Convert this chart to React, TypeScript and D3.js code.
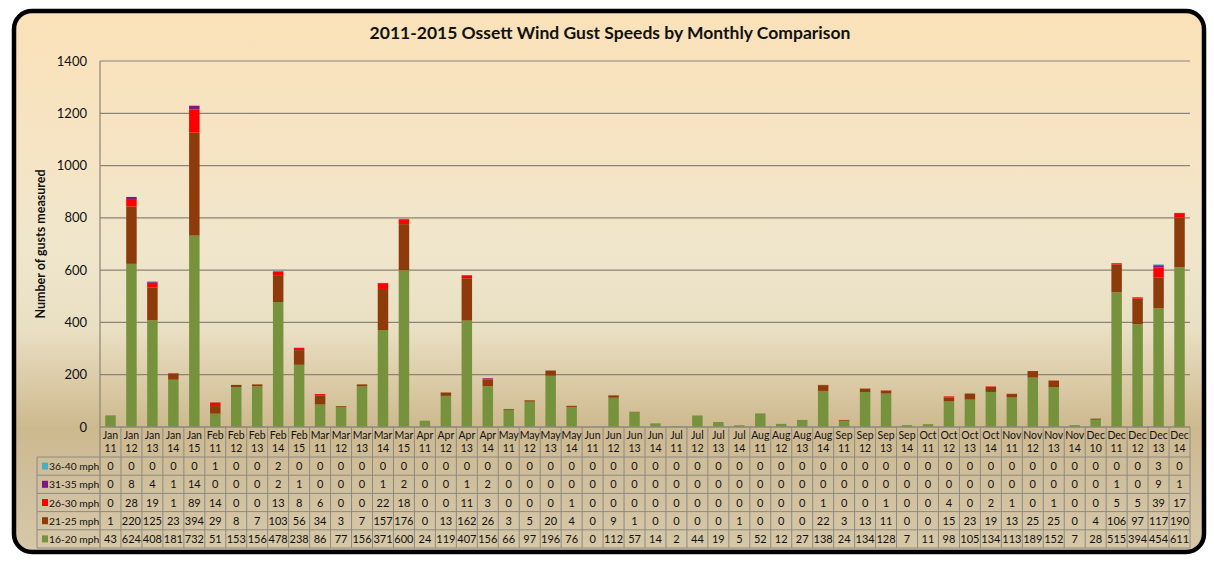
import React from "react";
import * as d3 from "d3";

const categories = [
  "Jan 11","Jan 12","Jan 13","Jan 14","Jan 15",
  "Feb 11","Feb 12","Feb 13","Feb 14","Feb 15",
  "Mar 11","Mar 12","Mar 13","Mar 14","Mar 15",
  "Apr 11","Apr 12","Apr 13","Apr 14",
  "May 11","May 12","May 13","May 14",
  "Jun 11","Jun 12","Jun 13","Jun 14",
  "Jul 11","Jul 12","Jul 13","Jul 14",
  "Aug 11","Aug 12","Aug 13","Aug 14",
  "Sep 11","Sep 12","Sep 13","Sep 14",
  "Oct 11","Oct 12","Oct 13","Oct 14",
  "Nov 11","Nov 12","Nov 13","Nov 14",
  "Dec 10","Dec 11","Dec 12","Dec 13","Dec 14",
];

const mph16_20 = [43,624,408,181,732,51,153,156,478,238,86,77,156,371,600,24,119,407,156,66,97,196,76,0,112,57,14,2,44,19,5,52,12,27,138,24,134,128,7,11,98,105,134,113,189,152,7,28,515,394,454,611];
const mph21_25 = [1,220,125,23,394,29,8,7,103,56,34,3,7,157,176,0,13,162,26,3,5,20,4,0,9,1,0,0,0,0,1,0,0,0,22,3,13,11,0,0,15,23,19,13,25,25,0,4,106,97,117,190];
const mph26_30 = [0,28,19,1,89,14,0,0,13,8,6,0,0,22,18,0,0,11,3,0,0,0,1,0,0,0,0,0,0,0,0,0,0,0,1,0,0,1,0,0,4,0,2,1,0,1,0,0,5,5,39,17];
const mph31_35 = [0,8,4,1,14,0,0,0,2,1,0,0,0,1,2,0,0,1,2,0,0,0,0,0,0,0,0,0,0,0,0,0,0,0,0,0,0,0,0,0,0,0,0,0,0,0,0,0,1,0,9,1];
const mph36_40 = [0,0,0,0,0,1,0,0,2,0,0,0,0,0,0,0,0,0,0,0,0,0,0,0,0,0,0,0,0,0,0,0,0,0,0,0,0,0,0,0,0,0,0,0,0,0,0,0,0,0,3,0];

const seriesNames = ["16-20 mph","21-25 mph","26-30 mph","31-35 mph","36-40 mph"];
const seriesValues = [mph16_20, mph21_25, mph26_30, mph31_35, mph36_40];
const seriesColors = ["#76923C","#8E3B0B","#FF0000","#7B1A85","#4BACC6"];
const yTicks = [0,200,400,600,800,1000,1200,1400];

const W = 1214, H = 563;
const left = 100, right = 1190, top = 61, bottom = 427;
const headerH = 30, rowH = 18.2, legendLeft = 37;
const font = "Lato, 'Open Sans', sans-serif";

export default function App() {
  const keys = seriesNames;
  const rows = categories.map((c, i) => {
    const o: any = { cat: c };
    keys.forEach((k, j) => (o[k] = seriesValues[j][i]));
    return o;
  });
  const stacked = d3.stack().keys(keys)(rows);
  const x = d3.scaleBand().domain(categories).range([left, right]).padding(0);
  const y = d3.scaleLinear().domain([0, 1400]).range([bottom, top]);
  const bw = x.bandwidth();
  const barW = bw * 0.5;
  const tableTop = bottom;
  const rowsTop = tableTop + headerH;
  const tableOrder = [4, 3, 2, 1, 0];
  const tableBottom = rowsTop + rowH * tableOrder.length;

  return (
    <svg width={W} height={H} style={{ position: "absolute", left: 0, top: 0 }}>
      <defs>
        <linearGradient id="bg" x1="0" y1="0" x2="0" y2="1">
          <stop offset="0%" stopColor="#FAE1B8" />
          <stop offset="26%" stopColor="#F6E4C4" />
          <stop offset="44%" stopColor="#EFE6CC" />
          <stop offset="59%" stopColor="#E9DFC3" />
          <stop offset="68%" stopColor="#DCCCA8" />
          <stop offset="77%" stopColor="#CDB98F" />
          <stop offset="88%" stopColor="#D1C09E" />
          <stop offset="100%" stopColor="#D6C8A8" />
        </linearGradient>
      </defs>
      <rect x={0} y={0} width={W} height={H} fill="#ffffff" />
      <rect x={14} y={11} width={1190} height={541} rx={18} ry={18} fill="url(#bg)" stroke="#000" strokeWidth={4.5} />
      <text x={610} y={39} textAnchor="middle" fontFamily={font} fontWeight="bold" fontSize={17.5} fill="#111">
        2011-2015 Ossett Wind Gust Speeds by Monthly Comparison
      </text>
      {yTicks.map((t) => (
        <line key={"g" + t} x1={left} x2={right} y1={y(t)} y2={y(t)} stroke="#8A8478" strokeWidth={1.2} />
      ))}
      {yTicks.map((t) => (
        <text key={"t" + t} x={87} y={y(t) + 4.5} textAnchor="end" fontFamily={font} fontSize={13} fill="#111">
          {t}
        </text>
      ))}
      <text transform={`translate(45,244) rotate(-90)`} textAnchor="middle" fontFamily={font} fontWeight="bold" fontSize={12.5} fill="#111">
        Number of gusts measured
      </text>
      {stacked.map((s, si) => (
        <g key={s.key} fill={seriesColors[si]}>
          {s.map((d, i) => {
            const h = y(d[0]) - y(d[1]);
            if (h <= 0) return null;
            return (
              <rect key={i} x={(x(categories[i]) as number) + (bw - barW) / 2} y={y(d[1])} width={barW} height={h} />
            );
          })}
        </g>
      ))}
      <line x1={left} x2={left} y1={top} y2={tableBottom} stroke="#8A8478" strokeWidth={1.2} />
      <g stroke="#8C8A84" strokeWidth={1}>
        <line x1={left} x2={right} y1={tableTop} y2={tableTop} />
        {tableOrder.map((_, r) => (
          <line key={"h" + r} x1={legendLeft} x2={right} y1={rowsTop + r * rowH} y2={rowsTop + r * rowH} />
        ))}
        <line x1={legendLeft} x2={right} y1={tableBottom} y2={tableBottom} />
        <line x1={legendLeft} x2={legendLeft} y1={rowsTop} y2={tableBottom} />
        {categories.map((c, i) => (
          <line key={"v" + i} x1={(x(c) as number) + bw} x2={(x(c) as number) + bw} y1={tableTop} y2={tableBottom} />
        ))}
      </g>
      {categories.map((c, i) => {
        const [m, yr] = c.split(" ");
        const cx = (x(c) as number) + bw / 2;
        return (
          <g key={"c" + i} fontFamily={font} fontSize={10.5} fill="#111" textAnchor="middle">
            <text x={cx} y={tableTop + 12}>{m}</text>
            <text x={cx} y={tableTop + 25}>{yr}</text>
          </g>
        );
      })}
      {tableOrder.map((si, r) => {
        const yy = rowsTop + r * rowH;
        return (
          <g key={"r" + si} fontFamily={font} fontSize={11} fill="#111">
            <rect x={legendLeft + 5} y={yy + rowH / 2 - 3.5} width={6} height={7} fill={seriesColors[si]} />
            <text x={legendLeft + 12} y={yy + rowH / 2 + 4} fontSize={10.3}>{seriesNames[si]}</text>
            {seriesValues[si].map((v, i) => (
              <text key={i} x={(x(categories[i]) as number) + bw / 2} y={yy + rowH / 2 + 4} textAnchor="middle">
                {v}
              </text>
            ))}
          </g>
        );
      })}
    </svg>
  );
}
